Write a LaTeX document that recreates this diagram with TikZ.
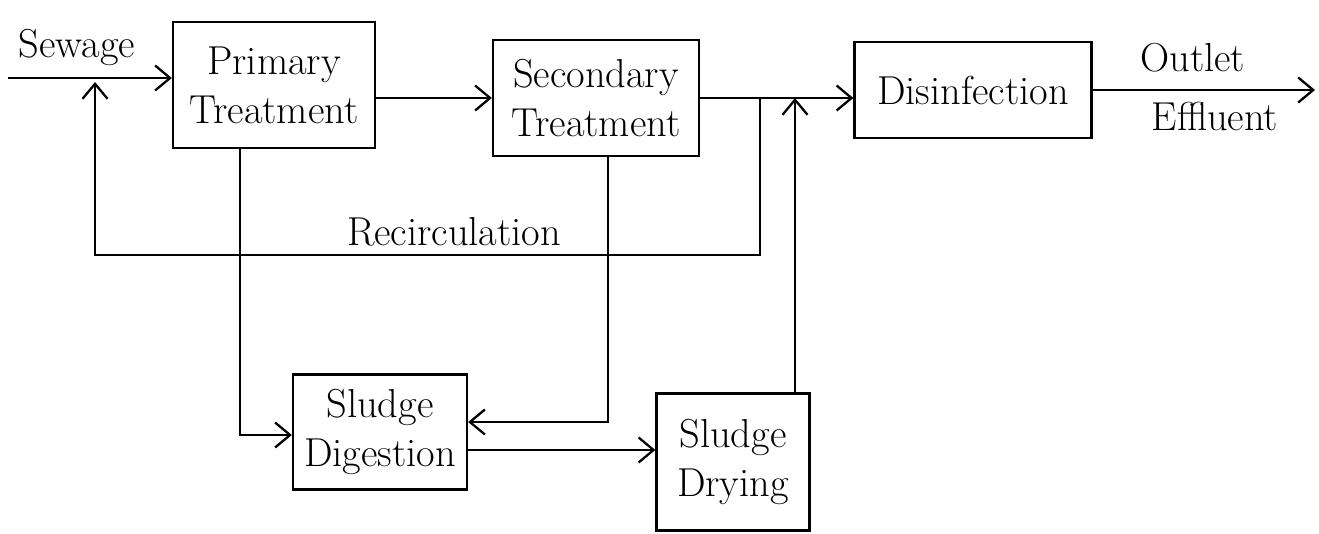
\documentclass[tikz,border=0pt]{standalone}
\usepackage{tikz}
\usetikzlibrary{positioning, arrows.meta}
\tikzset{
x=0.02cm, y=-0.02cm, % one unit is one pixel of the sketch
>={Straight Barb[length=3mm,width=5mm]}, % open hand-drawn arrow heads
every path/.style={line width=1.3pt},
block/.style={draw, line width=1.3pt, align=center, inner sep=2pt,
  font=\fontsize{23}{28}\selectfont}, % sets the properties for each box
lbl/.style={font=\fontsize{23}{28}\selectfont}, % labels on the lines
}
\begin{document}
\begin{tikzpicture}
    \useasboundingbox (0,0) rectangle (1319,534);

    \node[block, minimum width=4.04cm, minimum height=2.52cm] (primary) at (274,85) {Primary\\Treatment};
    \node[block, minimum width=4.12cm, minimum height=2.32cm] (secondary) at (596,98) {Secondary\\Treatment};
    \node[block, minimum width=4.74cm, minimum height=1.92cm] (disinf) at (973,90) {Disinfection};
    \node[block, minimum width=3.48cm, minimum height=2.3cm] (digest) at (380,432) {Sludge\\Digestion};
    \node[block, minimum width=3.06cm, minimum height=2.74cm] (drying) at (733,462) {Sludge\\Drying};

    \coordinate (in) at (8,78);
    \coordinate (out) at (1315,88);
    \coordinate (rj) at (760,98);
    \coordinate (rc) at (760,255);
    \coordinate (rl) at (95,255);
    \coordinate (rt) at (95,82);
    \coordinate (pd) at (240,435);
    \coordinate (sd) at (608,422);
    \coordinate (dd) at (470,450);
    \coordinate (dj) at (795,98);

    % main line
    \draw[->] (in) -- (in -| primary.west) node[lbl, pos=0.42, above=3pt] {Sewage};
    \draw[->] (secondary.west -| primary.east) -- (secondary.west);
    \draw[->] (secondary.east) -- (secondary.east -| disinf.west);
    \draw[->] (disinf.east) -- (disinf.east -| out)
        node[lbl, pos=0.45, above=6pt] {Outlet}
        node[lbl, pos=0.55, below=3pt] {Effluent};

    % recirculation
    \draw[->] (rj) -- (rc) -- (rl) node[lbl, pos=0.46, above=1pt] {Recirculation} -- (rt);

    % sludge lines
    \draw[->] (primary.south -| pd) -- (pd) -- (pd -| digest.west);
    \draw[->] (secondary.south -| sd) -- (sd) -- (sd -| digest.east);
    \draw[->] (dd -| digest.east) -- (dd -| drying.west);
    \draw[->] (drying.north -| dj) -- (dj);
\end{tikzpicture}
\end{document}
